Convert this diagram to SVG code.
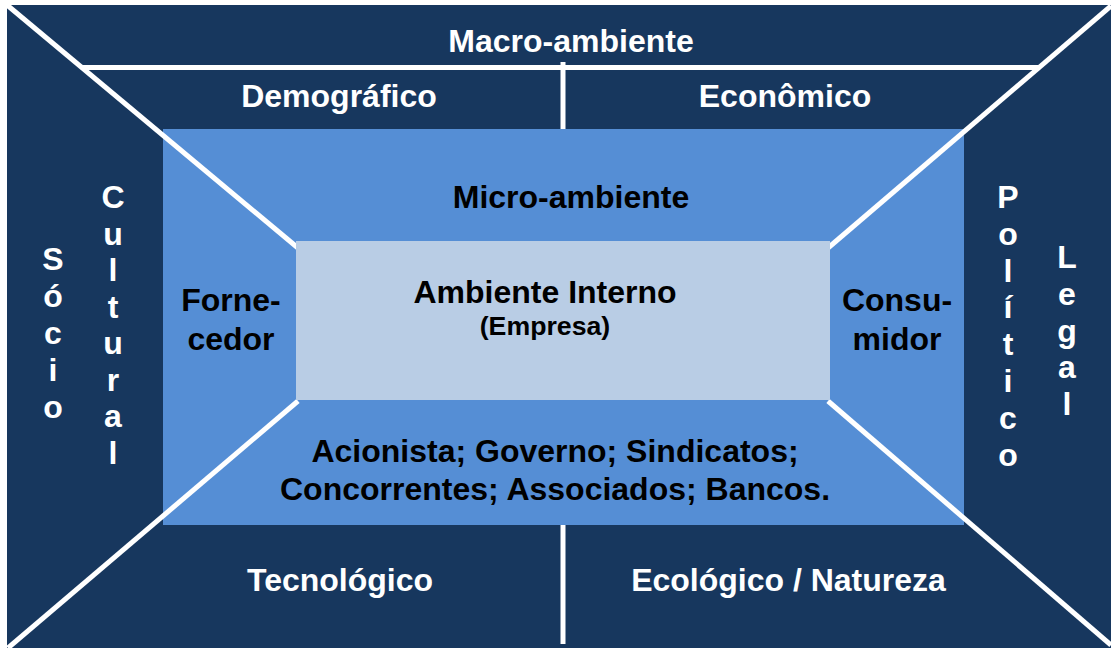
<svg xmlns="http://www.w3.org/2000/svg" width="1111" height="648" viewBox="0 0 1111 648">
<style>
text{font-family:"Liberation Sans",Arial,sans-serif;font-weight:bold;font-size:32px;text-anchor:middle}
.w{fill:#FFFFFF}
.k{fill:#000000}
.ln{stroke:#FFFFFF;stroke-width:5;fill:none}
</style>
<rect x="0" y="0" width="1111" height="648" fill="#FFFFFF"/>
<g id="macro">
<rect x="7" y="5" width="1104" height="643" fill="#17375E"/>
</g>
<g id="micro">
<rect x="163" y="129" width="801" height="396" fill="#558ED5"/>
</g>
<g id="connectors">
<line class="ln" x1="7" y1="5" x2="298" y2="248"/>
<line class="ln" x1="1111" y1="6" x2="828" y2="248"/>
<line class="ln" x1="298" y1="401" x2="8" y2="648"/>
<line class="ln" x1="828" y1="401" x2="1111" y2="645"/>
<line class="ln" x1="82" y1="67.5" x2="1040" y2="67.5"/>
<line class="ln" x1="563" y1="62" x2="563" y2="129"/>
<line class="ln" x1="563" y1="525" x2="563" y2="644"/>
</g>
<g id="interno">
<rect x="296" y="241" width="534" height="159" fill="#B9CDE5"/>
</g>
<g id="t-macro"><text class="w" x="571" y="52">Macro-ambiente</text></g>
<g id="t-demografico"><text class="w" x="339" y="107">Demográfico</text></g>
<g id="t-economico"><text class="w" x="785" y="107">Econômico</text></g>
<g id="t-micro"><text class="k" x="571" y="208">Micro-ambiente</text></g>
<g id="t-interno"><text class="k" x="545" y="303">Ambiente Interno</text><text class="k" x="545" y="335" style="font-size:26.7px">(Empresa)</text></g>
<g id="t-fornecedor"><text class="k" x="231" y="311">Forne-</text><text class="k" x="231" y="350">cedor</text></g>
<g id="t-consumidor"><text class="k" x="897" y="311">Consu-</text><text class="k" x="897" y="350">midor</text></g>
<g id="t-outros"><text class="k" x="555" y="462">Acionista; Governo; Sindicatos;</text><text class="k" x="555" y="500">Concorrentes; Associados; Bancos.</text></g>
<g id="t-tecnologico"><text class="w" x="340" y="591">Tecnológico</text></g>
<g id="t-ecologico"><text class="w" x="788.5" y="591">Ecológico / Natureza</text></g>
<g id="t-socio">
<text class="w" x="53" y="270">S</text><text class="w" x="53" y="307">ó</text><text class="w" x="53" y="344">c</text><text class="w" x="53" y="381">i</text><text class="w" x="53" y="418">o</text>
</g>
<g id="t-cultural">
<text class="w" x="113" y="208">C</text><text class="w" x="113" y="244.5">u</text><text class="w" x="113" y="281">l</text><text class="w" x="113" y="317.5">t</text><text class="w" x="113" y="354">u</text><text class="w" x="113" y="390.5">r</text><text class="w" x="113" y="427">a</text><text class="w" x="113" y="463.5">l</text>
</g>
<g id="t-politico">
<text class="w" x="1008" y="208">P</text><text class="w" x="1008" y="244.8">o</text><text class="w" x="1008" y="281.6">l</text><text class="w" x="1008" y="318.4">í</text><text class="w" x="1008" y="355.2">t</text><text class="w" x="1008" y="392">i</text><text class="w" x="1008" y="428.8">c</text><text class="w" x="1008" y="465.6">o</text>
</g>
<g id="t-legal">
<text class="w" x="1067" y="268">L</text><text class="w" x="1067" y="305">e</text><text class="w" x="1067" y="341.5">g</text><text class="w" x="1067" y="378">a</text><text class="w" x="1067" y="415">l</text>
</g>
</svg>
